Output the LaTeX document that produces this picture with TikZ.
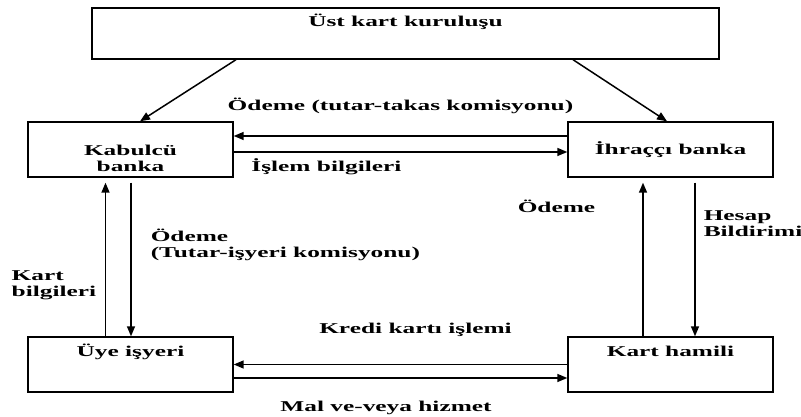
\documentclass[tikz,border=0pt]{standalone}
\usepackage{fontspec}
\setmainfont{Liberation Serif}[FakeStretch=1.69]
\usetikzlibrary{arrows.meta}
\tikzset{
  kutu/.style={draw, line width=1.4pt, minimum width=205pt, minimum height=55pt, inner ysep=0pt},
  ok/.style={-{Triangle[length=10pt,width=8pt]}, line width=1.5pt},
  yazi/.style={inner sep=0pt, align=left},
}

\begin{document}
\begin{tikzpicture}[x=1pt,y=1pt,every node/.style={font=\fontsize{15}{16}\selectfont\bfseries}]
  \useasboundingbox (0,0) rectangle (801,417);
  \node [kutu, minimum width=627pt, minimum height=51pt, text height=18.5pt, text depth=32.5pt] (ust) at (405.5,383.5) {Üst kart kuruluşu};
  \node [kutu, align=center, text height=48pt, text depth=3pt] (kabul) at (130.5,267.5) {Kabulcü\\banka};
  \node [kutu, right of=kabul, node distance=540pt] (ihrac) {İhraççı banka};
  \node [kutu, below of=kabul, node distance=215pt, text height=19.5pt, text depth=35.5pt] (uye) {Üye işyeri};
  \node [kutu, right of=uye, node distance=540pt, text height=19.5pt, text depth=35.5pt] (hamil) {Kart hamili};

  \draw [ok] ([xshift=-169.5pt]ust.south) -- ([xshift=9.5pt]kabul.north);
  \draw [ok] ([xshift=167.5pt]ust.south) -- ([xshift=-3.5pt]ihrac.north);

  \draw [ok] ([yshift=13.5pt]ihrac.west) -- node[yazi, anchor=base, yshift=25pt] {Ödeme (tutar-takas komisyonu)} ([yshift=13.5pt]kabul.east);
  \draw [ok] ([yshift=-2.5pt]kabul.east) -- node[yazi, pos=0, anchor=base west, xshift=17pt, yshift=-20pt] {İşlem bilgileri} ([yshift=-2.5pt]ihrac.west);

  \draw [ok] ([xshift=-25pt]uye.north) -- node[yazi, pos=0, anchor=base west, xshift=-94.5pt, yshift=40pt] {Kart\\bilgileri} ([xshift=-25pt,yshift=-5pt]kabul.south);
  \draw [ok] ([xshift=0.5pt,yshift=-5pt]kabul.south) -- node[yazi, pos=0, anchor=base west, xshift=19pt, yshift=-75pt] {Ödeme\\(Tutar-işyeri komisyonu)} ([xshift=0.5pt]uye.north);

  \draw [ok] ([xshift=-27.5pt]hamil.north) -- node[yazi, pos=0, anchor=base west, xshift=-126pt, yshift=124pt] {Ödeme} ([xshift=-27.5pt,yshift=-5pt]ihrac.south);
  \draw [ok] ([xshift=24.5pt,yshift=-5pt]ihrac.south) -- node[yazi, pos=0, anchor=base west, xshift=8pt, yshift=-54pt] {Hesap\\Bildirimi} ([xshift=24.5pt]hamil.north);

  \draw [ok] (hamil.west) -- node[yazi, anchor=base, xshift=15pt, yshift=31pt] {Kredi kartı işlemi} (uye.east);
  \draw [ok] ([yshift=-13.5pt]uye.east) -- node[yazi, anchor=base, xshift=-14.5pt, yshift=-34pt] {Mal ve-veya hizmet} ([yshift=-13.5pt]hamil.west);
\end{tikzpicture}
\end{document}
